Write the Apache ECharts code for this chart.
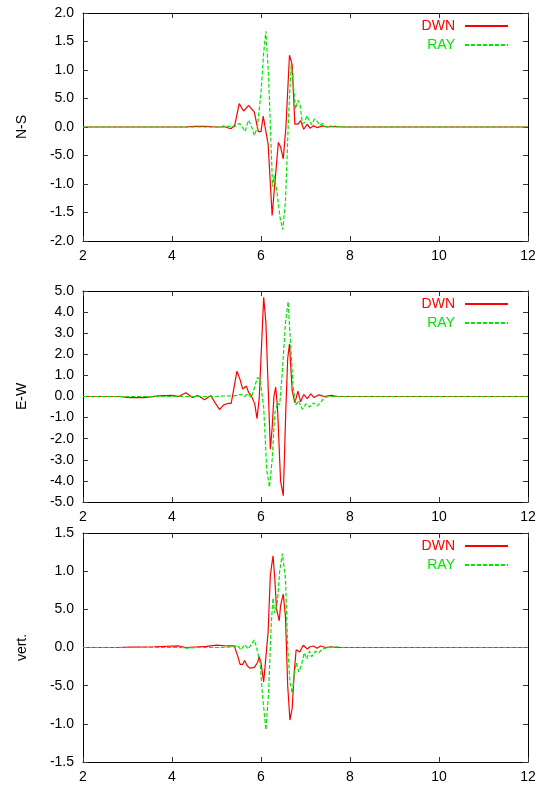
<!DOCTYPE html>
<html>
<head>
<meta charset="utf-8">
<script src="https://cdn.jsdelivr.net/npm/echarts@6/dist/echarts.min.js"></script>
<style>
html,body{margin:0;padding:0;background:#fff;}
#chart{width:540px;height:787px;}
</style>
</head>
<body>
<div id="chart"></div>
<script>
// ---- data (time axis, amplitude) ----
const xTicks = [2, 4, 6, 8, 10, 12];

const nsLabels = ['-2.0', '-1.5', '-1.0', '-5.0', '0.0', '5.0', '1.0', '1.5', '2.0'];
const ewLabels = ['-5.0', '-4.0', '-3.0', '-2.0', '-1.0', '0.0', '1.0', '2.0', '3.0', '4.0', '5.0'];
const vtLabels = ['-1.5', '-1.0', '-5.0', '0.0', '5.0', '1.0', '1.5'];

const nsDwnT = [2, 4.3, 4.5, 4.75, 5.0, 5.2, 5.32, 5.41, 5.51, 5.61, 5.72, 5.85, 5.94, 6.0, 6.05, 6.09, 6.16, 6.25, 6.39, 6.44, 6.5, 6.56, 6.64, 6.7, 6.76, 6.83, 6.89, 6.96, 7.04, 7.1, 7.18, 7.26, 7.38, 7.49, 7.65, 7.8, 12];
const nsDwnV = [0, 0, 0.01, 0.01, 0, 0, -0.03, 0.03, 0.41, 0.28, 0.38, 0.26, -0.08, -0.08, 0.19, 0.18, -0.3, -1.55, -0.27, -0.35, -0.56, 0.0, 1.26, 1.1, 0.05, 0.05, 0.11, -0.04, 0.05, -0.02, 0.02, -0.01, 0.02, 0, 0.01, 0, 0];
const nsRayT = [2, 5.1, 5.16, 5.28, 5.4, 5.47, 5.52, 5.58, 5.64, 5.72, 5.78, 5.85, 5.92, 6.0, 6.06, 6.11, 6.17, 6.26, 6.3, 6.36, 6.43, 6.49, 6.55, 6.62, 6.68, 6.73, 6.78, 6.83, 6.88, 6.93, 6.98, 7.03, 7.08, 7.14, 7.2, 7.26, 7.32, 7.38, 7.45, 7.55, 7.65, 7.8, 7.9, 12];
const nsRayV = [0, 0, 0.02, 0.01, 0.0, 0.05, 0.06, 0.0, -0.08, 0.12, 0.03, -0.15, 0.0, 0.6, 1.3, 1.68, 0.9, -1.05, -0.85, -1.15, -1.6, -1.8, -1.3, 0.2, 1.12, 0.7, 0.32, 0.47, 0.38, 0.06, 0.08, 0.2, 0.12, 0.04, 0.14, 0.1, 0.03, 0.06, 0.0, 0.02, 0.0, 0.01, 0, 0];

const ewDwnT = [2, 2.8, 3.06, 3.38, 3.69, 4.0, 4.15, 4.31, 4.46, 4.58, 4.73, 4.87, 4.97, 5.07, 5.16, 5.26, 5.33, 5.46, 5.53, 5.59, 5.67, 5.72, 5.78, 5.86, 5.91, 5.96, 6.06, 6.11, 6.21, 6.25, 6.29, 6.33, 6.37, 6.44, 6.5, 6.56, 6.6, 6.64, 6.7, 6.76, 6.83, 6.89, 6.96, 7.04, 7.12, 7.19, 7.3, 7.42, 7.57, 7.73, 12];
const ewDwnV = [0, 0, -0.05, -0.05, 0.03, 0.05, 0.0, 0.18, -0.05, 0.05, -0.15, 0.05, -0.3, -0.62, -0.4, -0.33, -0.33, 1.2, 0.8, 0.35, 0.5, 0.2, 0.05, -0.35, -1.05, -0.1, 4.7, 3.5, -2.5, -1.5, 0.0, 0.45, -0.5, -4.0, -4.7, -0.5, 1.8, 2.5, 0.3, -0.3, 0.25, -0.25, 0.1, -0.1, 0.12, -0.05, 0.08, 0.0, 0.05, 0.0, 0];
const ewRayT = [2, 5.0, 5.08, 5.4, 5.55, 5.63, 5.71, 5.78, 5.85, 5.92, 5.98, 6.06, 6.13, 6.19, 6.25, 6.31, 6.37, 6.42, 6.48, 6.55, 6.61, 6.65, 6.72, 6.78, 6.84, 6.93, 7.01, 7.09, 7.18, 7.26, 7.35, 7.42, 7.53, 12];
const ewRayV = [0, 0, 0.02, 0.03, 0.1, 0.0, 0.15, -0.05, 0.4, 0.9, 0.8, -0.5, -3.5, -4.3, -3.0, -0.8, -0.3, -0.4, 1.2, 3.5, 4.5, 3.0, 0.5, -0.4, -0.2, -0.6, -0.35, -0.5, -0.3, -0.45, -0.25, -0.05, 0, 0];

const vtDwnT = [2, 2.8, 3.06, 3.61, 4.15, 4.31, 4.62, 4.77, 5.01, 5.24, 5.4, 5.47, 5.53, 5.59, 5.63, 5.69, 5.75, 5.85, 5.92, 5.96, 6.0, 6.06, 6.09, 6.16, 6.21, 6.27, 6.31, 6.35, 6.41, 6.44, 6.5, 6.55, 6.6, 6.65, 6.7, 6.75, 6.79, 6.87, 6.95, 6.99, 7.04, 7.1, 7.18, 7.26, 7.34, 7.45, 7.57, 7.7, 12];
const vtDwnV = [0, 0, 0.005, 0.01, 0.02, 0.0, 0.01, 0.015, 0.03, 0.02, 0.02, -0.1, -0.22, -0.22, -0.17, -0.24, -0.27, -0.26, -0.2, -0.12, -0.2, -0.45, -0.45, 0.2, 0.95, 1.2, 0.9, 0.5, 0.35, 0.55, 0.7, 0.4, -0.5, -0.95, -0.8, -0.3, -0.03, -0.06, 0.03, 0.04, -0.02, 0.01, 0.02, -0.01, 0.02, 0.0, 0.01, 0, 0];
const vtRayT = [2, 4.2, 4.31, 4.62, 5.08, 5.4, 5.47, 5.55, 5.64, 5.71, 5.85, 5.9, 5.98, 6.03, 6.11, 6.17, 6.23, 6.27, 6.31, 6.37, 6.42, 6.48, 6.55, 6.6, 6.65, 6.7, 6.75, 6.79, 6.85, 6.9, 6.97, 7.03, 7.09, 7.14, 7.22, 7.3, 7.38, 7.49, 7.69, 7.85, 12];
const vtRayV = [0, 0, -0.01, 0.0, 0.0, 0.01, 0.03, -0.03, 0.04, -0.02, 0.1, 0.0, -0.2, -0.6, -1.08, -0.6, 0.3, 0.65, 0.45, 0.6, 1.0, 1.23, 0.9, 0.0, -0.45, -0.6, -0.35, -0.2, -0.32, -0.25, -0.07, -0.15, -0.05, -0.12, -0.05, -0.07, -0.02, 0.0, 0.01, 0, 0];

// ---- build chart ----
const RED = '#ff0000';
const GREEN = '#00e600';
const FONT = '"Liberation Sans", Arial, Helvetica, sans-serif';

const panels = [
  { title: 'N-S', min: -2, max: 2, step: 0.5, labels: nsLabels, top: 13, height: 228, dT: nsDwnT, dV: nsDwnV, rT: nsRayT, rV: nsRayV },
  { title: 'E-W', min: -5, max: 5, step: 1, labels: ewLabels, top: 291, height: 211, dT: ewDwnT, dV: ewDwnV, rT: ewRayT, rV: ewRayV },
  { title: 'vert.', min: -1.5, max: 1.5, step: 0.5, labels: vtLabels, top: 533, height: 229, dT: vtDwnT, dV: vtDwnV, rT: vtRayT, rV: vtRayV }
];

function zip(t, v) { return t.map((x, i) => [x, v[i]]); }

const grid = [], xAxis = [], yAxis = [], series = [], legend = [];
const axisLine = { show: true, onZero: false, lineStyle: { color: '#000', width: 1 } };
const tick = { show: true, inside: true, length: 5, lineStyle: { color: '#333', width: 1 } };
const hidden = 'rgba(0,0,0,0)';

panels.forEach((p, i) => {
  grid.push({ left: 83, width: 445, top: p.top, height: p.height, containLabel: false });
  xAxis.push({
    type: 'value', gridIndex: i, min: 2, max: 12, interval: 2, position: 'bottom',
    axisLine, axisTick: tick, splitLine: { show: false },
    axisLabel: { color: '#000', fontSize: 14, fontFamily: FONT, margin: 8,
      formatter: v => String(xTicks[Math.round((v - 2) / 2)]) }
  });
  xAxis.push({
    type: 'value', gridIndex: i, min: 2, max: 12, interval: 2, position: 'top',
    axisLine, axisTick: tick, splitLine: { show: false }, axisLabel: { show: false }
  });
  yAxis.push({
    type: 'value', gridIndex: i, min: p.min, max: p.max, interval: p.step, position: 'left',
    name: p.title, nameLocation: 'middle', nameGap: 54, nameRotate: 90,
    nameTextStyle: { color: '#000', fontSize: 14, fontFamily: FONT },
    axisLine, axisTick: tick, splitLine: { show: false },
    axisLabel: { color: '#000', fontSize: 14, fontFamily: FONT, margin: 9,
      formatter: v => p.labels[Math.round((v - p.min) / p.step)] }
  });
  yAxis.push({
    type: 'value', gridIndex: i, min: p.min, max: p.max, interval: p.step, position: 'right',
    axisLine, axisTick: tick, splitLine: { show: false }, axisLabel: { show: false }
  });
  series.push({
    name: 'DWN', type: 'line', xAxisIndex: 2 * i, yAxisIndex: 2 * i,
    data: zip(p.dT, p.dV), symbol: 'none', showSymbol: false, z: 2,
    lineStyle: { color: RED, width: 1.2 }, itemStyle: { color: RED }
  });
  series.push({
    name: 'RAY', type: 'line', xAxisIndex: 2 * i, yAxisIndex: 2 * i,
    data: zip(p.rT, p.rV), symbol: 'none', showSymbol: false, z: 3,
    lineStyle: { color: GREEN, width: 1.2, type: [4, 2] }, itemStyle: { color: GREEN }
  });
  legend.push({
    top: p.top + 6, right: 31, padding: 0, orient: 'vertical', align: 'right',
    itemWidth: 43, itemHeight: 12, itemGap: 5, selectedMode: false,
    itemStyle: { color: hidden, borderColor: hidden, borderWidth: 0, opacity: 0 },
    textStyle: { fontSize: 14, fontFamily: FONT, padding: [0, 5, 0, 0] },
    data: [
      { name: 'DWN', textStyle: { color: RED } },
      { name: 'RAY', textStyle: { color: GREEN } }
    ]
  });
});

const chart = echarts.init(document.getElementById('chart'), null, { renderer: 'canvas' });
chart.setOption({
  animation: false,
  backgroundColor: '#fff',
  grid, xAxis, yAxis, series, legend
});
</script>
</body>
</html>
